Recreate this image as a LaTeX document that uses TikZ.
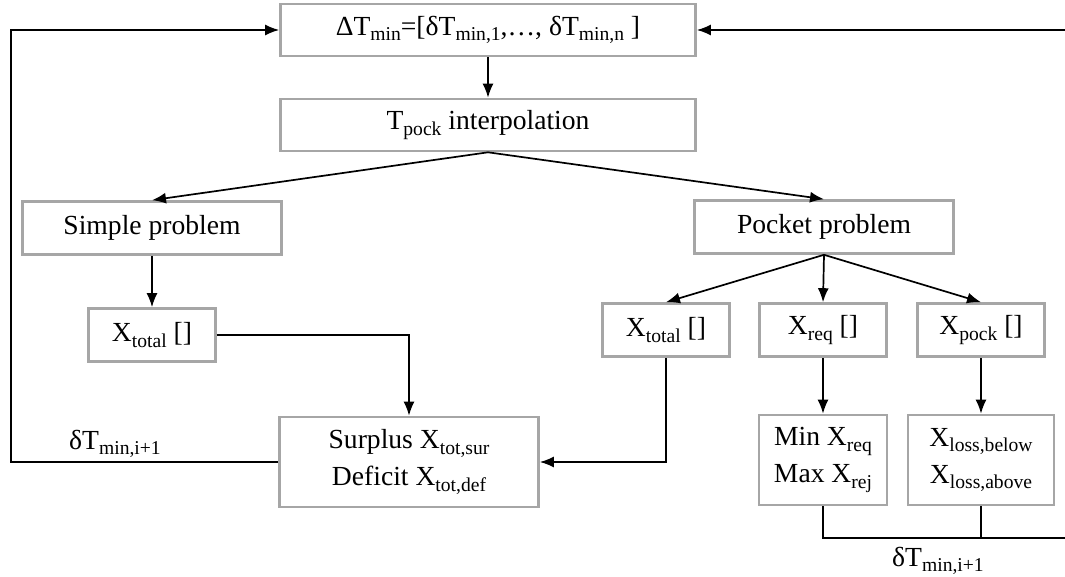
\documentclass[tikz,border=0pt]{standalone}
\usepackage{fontspec}
\setmainfont{Liberation Serif}
\usepackage{tikz}
\usetikzlibrary{arrows.meta,calc}
\newcommand{\sbs}[1]{\raisebox{-0.45ex}{\fontsize{9.8}{10}\selectfont #1}}
\tikzset{
  blk/.style     = {draw=black!35, line width=1.3pt, fill=white, inner sep=0pt,
                    align=center, font=\fontsize{13.8}{18.5}\selectfont},
  wide/.style    = {blk, minimum width=207.5pt, minimum height=26pt},
  mid/.style     = {blk, minimum width=129.5pt, minimum height=26.5pt},
  small/.style   = {blk, minimum width=63.5pt, minimum height=26.5pt},
  tall/.style    = {blk, minimum height=45pt},
  arr/.style     = {-{Latex[length=7pt,width=5.5pt]}, line width=0.85pt},
  wire/.style    = {line width=0.85pt},
  fblab/.style   = {font=\fontsize{13.8}{16}\selectfont},
}
\begin{document}
\begin{tikzpicture}[x=0.5pt,y=-0.5pt]
\useasboundingbox (0,0) rectangle (1065,577);
% top of the loop
\node[wide] (dtmin)  at (488,30)  {ΔT\sbs{min}=[δT\sbs{min,1},…, δT\sbs{min,n} ]};
\node[wide] (interp) at (488,125) {T\sbs{pock} interpolation};
% the two problems
\node[mid]  (simple) at (152,228) {Simple problem};
\node[mid]  (pocket) at (824,227) {Pocket problem};
% result vectors
\node[small] (xtotL) at (152,335) {X\sbs{total} []};
\node[small] (xtotR) at (666,330) {X\sbs{total} []};
\node[small] (xreq)  at (823,330) {X\sbs{req} []};
\node[small] (xpock) at (981,330) {X\sbs{pock} []};
% checks
\node[tall, minimum width=129.5pt] (surplus) at (409,462) {Surplus X\sbs{tot,sur}\\Deficit X\sbs{tot,def}};
\node[tall, minimum width=64pt]    (minmax)  at (823,460) {Min X\sbs{req}\\Max X\sbs{rej}};
\node[tall, minimum width=73pt]    (xloss)   at (981,460) {X\sbs{loss,below}\\X\sbs{loss,above}};
% feedback corners
\coordinate (fbL) at (11,30);
\coordinate (fbR) at (1068,538);

\draw[arr] (dtmin) -- (interp);
\draw[arr] (interp.south) -- (simple.north);
\draw[arr] (interp.south) -- (pocket.north);
\draw[arr] (simple) -- (xtotL);
\draw[arr] (pocket.south) -- (xtotR.north);
\draw[arr] (pocket.south) -- (xreq.north);
\draw[arr] (pocket.south) -- (xpock.north);
\draw[arr] (xtotL.east) -| (surplus.north);
\draw[arr] (xtotR.south) |- (surplus.east);
\draw[arr] (xreq) -- (minmax);
\draw[arr] (xpock) -- (xloss);
% loop back
\draw[arr] (surplus.west) -| (fbL) -- (dtmin.west);
\draw[arr] (minmax.south) |- (fbR) |- (dtmin.east);
\draw[wire] (xloss.south) -- (xloss.south |- fbR);
\node[fblab] (labL) at (115,444) {δT\sbs{min,i+1}};
\node[fblab] (labR) at (938,561) {δT\sbs{min,i+1}};
\end{tikzpicture}
\end{document}
